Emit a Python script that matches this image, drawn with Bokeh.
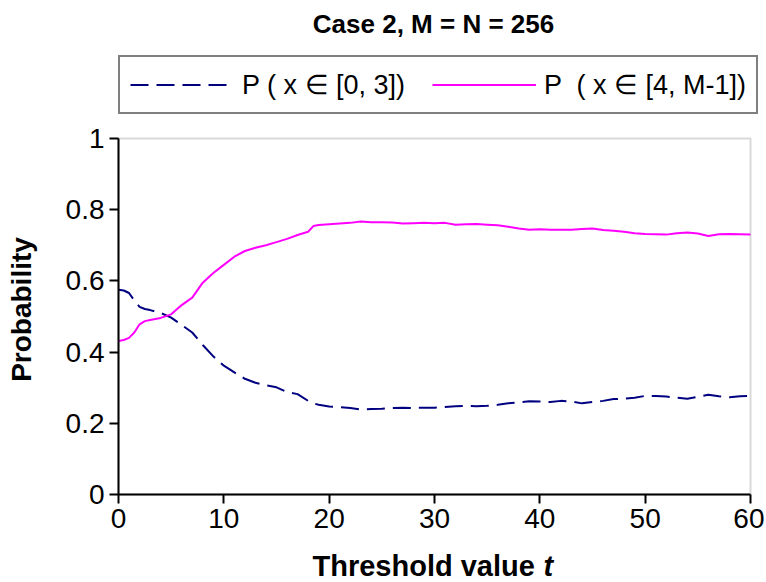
import math
from bokeh.plotting import figure
from bokeh.models import (Legend, LegendItem, Range1d, FixedTicker, Label,
                          BoxAnnotation)
from bokeh.embed import file_html
from bokeh.resources import INLINE

# ---- data ----
t_values = [0, 0.5, 1, 1.5, 2, 2.5, 3, 4, 5, 6, 7, 8, 9, 10, 11, 12, 13, 14, 15,
            16, 17, 18, 18.5, 19, 20, 21, 22, 23, 24, 25, 26, 27, 28, 29, 30,
            31, 32, 33, 34, 35, 36, 37, 38, 39, 40, 41, 42, 43, 44, 45, 46, 47,
            48, 49, 50, 51, 52, 53, 54, 55, 56, 57, 58, 59, 60]

p_low = [0.575, 0.573, 0.566, 0.545, 0.527, 0.521, 0.518, 0.510, 0.497, 0.476,
         0.455, 0.420, 0.388, 0.362, 0.343, 0.325, 0.314, 0.307, 0.301, 0.288,
         0.282, 0.263, 0.256, 0.252, 0.247, 0.245, 0.243, 0.239, 0.240, 0.241,
         0.243, 0.244, 0.243, 0.244, 0.244, 0.246, 0.248, 0.249, 0.248, 0.249,
         0.252, 0.256, 0.259, 0.262, 0.261, 0.260, 0.263, 0.261, 0.256, 0.260,
         0.263, 0.268, 0.269, 0.272, 0.277, 0.277, 0.275, 0.272, 0.269, 0.274,
         0.280, 0.276, 0.273, 0.276, 0.277]

p_high = [0.431, 0.434, 0.440, 0.455, 0.478, 0.487, 0.490, 0.496, 0.506, 0.532,
          0.553, 0.595, 0.622, 0.645, 0.668, 0.684, 0.693, 0.700, 0.709, 0.718,
          0.729, 0.738, 0.754, 0.757, 0.759, 0.761, 0.763, 0.767, 0.765, 0.765,
          0.764, 0.761, 0.762, 0.763, 0.762, 0.763, 0.758, 0.759, 0.760, 0.758,
          0.756, 0.752, 0.747, 0.744, 0.745, 0.744, 0.744, 0.744, 0.746, 0.747,
          0.743, 0.741, 0.738, 0.734, 0.732, 0.731, 0.730, 0.734, 0.736, 0.733,
          0.726, 0.731, 0.732, 0.731, 0.730]

title_text = "Case 2, M = N = 256"
label_low = "P ( x \u2208 [0, 3])"
label_high = "P  ( x \u2208 [4, M-1])"
x_label_main = "Threshold value"
x_label_var = "t"
y_label = "Probability"
x_ticks = [0, 10, 20, 30, 40, 50, 60]
y_ticks = [0, 0.2, 0.4, 0.6, 0.8, 1]
y_tick_text = ["0", "0.2", "0.4", "0.6", "0.8", "1"]

FONT = "Liberation Sans"

# layout in pixels: the frame covers the whole canvas; the data area
# (0..60 x 0..1) occupies 632 x 356 px with its lower-left corner at (118, 494)
CANVAS_W, CANVAS_H = 764, 580
AREA_LEFT, AREA_BOTTOM = 118, 494
AREA_W, AREA_H = 632, 356
x0, x1 = x_ticks[0], x_ticks[-1]
y0, y1 = y_ticks[0], y_ticks[-1]
ppx = AREA_W / (x1 - x0)
ppy = AREA_H / (y1 - y0)
x_start = x0 - AREA_LEFT / ppx
x_end = x_start + CANVAS_W / ppx
y_end = y0 + AREA_BOTTOM / ppy
y_start = y_end - CANVAS_H / ppy

p = figure(frame_width=CANVAS_W, frame_height=CANVAS_H,
           output_backend="svg", toolbar_location=None,
           x_range=Range1d(x_start, x_end), y_range=Range1d(y_start, y_end),
           min_border_left=0, min_border_right=0,
           min_border_top=0, min_border_bottom=0)
p.title = None

p.background_fill_color = "white"
p.border_fill_color = "white"
p.outline_line_color = None
p.xgrid.visible = False
p.ygrid.visible = False

# plot-area border (gray, visible on top and right)
p.add_layout(BoxAnnotation(left=x0, right=x1, bottom=y0, top=y1,
                           fill_color=None, line_color="#808080",
                           line_width=2, level="underlay"))

r_low = p.line(t_values, p_low, line_color="#000080", line_width=2,
               line_dash="18 8")
r_high = p.line(t_values, p_high, line_color="#FF00FF", line_width=2)

for ax in (p.xaxis[0], p.yaxis[0]):
    ax.axis_line_color = "black"
    ax.axis_line_width = 2
    ax.major_tick_line_color = "black"
    ax.major_tick_line_width = 2
    ax.major_tick_in = 0
    ax.major_tick_out = 9
    ax.minor_tick_line_color = None
    ax.major_label_text_font = FONT
    ax.major_label_text_font_size = "28px"
    ax.major_label_text_color = "black"
    ax.major_label_standoff = 5

p.xaxis.fixed_location = y0
p.yaxis.fixed_location = x0
p.xaxis.bounds = (x0, x1)
p.yaxis.bounds = (y0, y1)
p.xaxis.ticker = FixedTicker(ticks=x_ticks)
p.yaxis.ticker = FixedTicker(ticks=y_ticks)
p.yaxis.major_label_overrides = {v: s for v, s in zip(y_ticks, y_tick_text)}
p.xaxis.major_label_overrides = {v: str(v) for v in x_ticks}

# axis titles
p.add_layout(Label(x=21, y=CANVAS_H - 309, x_units="screen", y_units="screen",
                   text=y_label, angle=math.pi / 2, text_font=FONT,
                   text_font_style="bold", text_font_size="28px",
                   text_color="black", text_align="center",
                   text_baseline="middle"))
p.add_layout(Label(x=312, y=15, x_units="screen", y_units="screen",
                   text=x_label_main, text_font=FONT, text_font_style="bold",
                   text_font_size="29px", text_color="black",
                   text_align="left", text_baseline="alphabetic"))
p.add_layout(Label(x=543, y=15, x_units="screen", y_units="screen",
                   text=x_label_var, text_font=FONT,
                   text_font_style="bold italic", text_font_size="29px",
                   text_color="black", text_align="left",
                   text_baseline="alphabetic"))

# chart title
p.add_layout(Label(x=433, y=CANVAS_H - 23, x_units="screen", y_units="screen",
                   text=title_text, text_font=FONT, text_font_style="bold",
                   text_font_size="26px", text_color="black",
                   text_align="center", text_baseline="alphabetic"))

legend = Legend(items=[LegendItem(label=label_low, renderers=[r_low]),
                       LegendItem(label=label_high, renderers=[r_high])],
                orientation="horizontal", location=(AREA_LEFT, CANVAS_H - 114))
legend.margin = 0
legend.padding = 10
legend.spacing = 27
legend.glyph_width = 104
legend.glyph_height = 35
legend.label_height = 35
legend.label_standoff = 8
legend.label_text_font = FONT
legend.label_text_font_size = "27px"
legend.label_text_color = "black"
legend.border_line_color = "black"
legend.border_line_width = 2
legend.background_fill_color = "white"
legend.background_fill_alpha = 1
p.add_layout(legend)

open("out.html", "w").write(file_html(p, INLINE))
